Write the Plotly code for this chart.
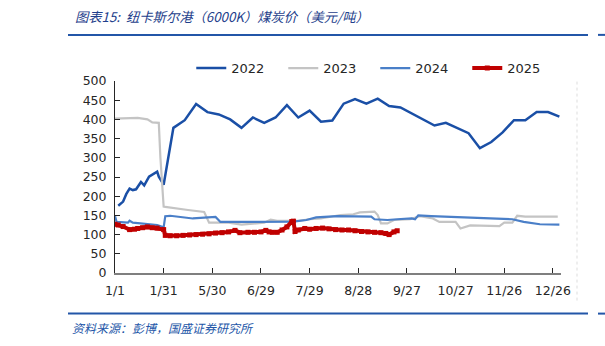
import plotly.graph_objects as go

# ---------------- data ----------------
tick_pos = [0, 30, 60, 90, 120, 150, 180, 210, 240, 270]
tick_labels = ["1/1", "1/31", "5/30", "6/29", "7/29", "8/28", "9/27", "10/27", "11/26", "12/26"]

x_2022 = [2, 5, 7, 9, 11, 13, 16, 18, 21, 26, 27, 30, 36, 43, 50, 57, 64, 71, 78, 85, 92, 99, 106,
          113, 120, 127, 134, 141, 148, 155, 162, 169, 176, 184, 190, 197, 204, 211, 218, 225, 232,
          239, 246, 253, 260, 267, 274]
y_2022 = [175, 186, 206, 220, 216, 218, 237, 228, 251, 264, 251, 230, 378, 398, 440, 419, 413, 400,
          378, 405, 391, 405, 437, 405, 423, 394, 397, 441, 453, 441, 454, 435, 431, 413, 398, 384,
          391, 378, 364, 325, 341, 366, 398, 398, 419, 419, 407]

x_2023 = [0, 14, 20, 23, 27, 28, 30, 31, 45, 55, 58, 70, 78, 88, 92, 96, 100, 113, 120, 127, 139,
          147, 151, 160, 162, 164, 168, 172, 182, 188, 196, 200, 210, 213, 219, 237, 240, 245, 248,
          253, 273]
y_2023 = [402, 404, 400, 392, 391, 300, 173, 172, 164, 159, 131, 131, 126, 129, 131, 139, 136, 136,
          140, 142, 151, 153, 158, 160, 151, 129, 129, 138, 140, 148, 142, 133, 133, 116, 124, 122,
          131, 131, 149, 147, 147]

x_2024 = [0, 1, 8, 9, 11, 26, 30, 31, 34, 48, 62, 65, 80, 90, 110, 118, 124, 137, 150, 158, 160,
          168, 174, 183, 185, 187, 195, 215, 245, 252, 262, 274]
y_2024 = [148, 133, 131, 136, 131, 125, 119, 148, 149, 142, 146, 133, 133, 133, 134, 138, 145, 148,
          147, 147, 140, 138, 140, 142, 140, 150, 148, 145, 140, 133, 127, 126]

x_2025 = [0, 2, 5, 9, 12, 14, 17, 20, 23, 26, 30, 31, 34, 38, 42, 46, 50, 54, 58, 62, 66, 70, 74,
          77, 82, 86, 90, 93, 95, 97, 100, 103, 106, 109, 110, 111, 113, 117, 120, 124, 128, 132,
          136, 140, 144, 148, 152, 156, 160, 164, 167, 169, 172, 174]
y_2025 = [127, 125, 121, 113, 114, 116, 118, 120, 118, 117, 113, 98, 97, 97, 98, 99, 100, 101, 102,
          104, 105, 107, 111, 105, 106, 106, 107, 111, 107, 106, 106, 112, 120, 134, 135, 108, 112,
          116, 114, 116, 117, 115, 113, 112, 112, 110, 108, 107, 106, 105, 103, 100, 107, 110]

# ---------------- figure ----------------
fig = go.Figure()
fig.add_trace(go.Scatter(x=x_2022, y=y_2022, name="2022", mode="lines",
                         line=dict(color="#1A4FA6", width=2.5)))
fig.add_trace(go.Scatter(x=x_2023, y=y_2023, name="2023", mode="lines",
                         line=dict(color="#C4C4C4", width=2.2)))
fig.add_trace(go.Scatter(x=x_2024, y=y_2024, name="2024", mode="lines",
                         line=dict(color="#4A7FC8", width=2.2)))
fig.add_trace(go.Scatter(x=x_2025, y=y_2025, name="2025", mode="lines+markers",
                         line=dict(color="#C00000", width=4),
                         marker=dict(symbol="square", size=5, color="#C00000")))

tick_font = dict(family="DejaVu Sans", size=12.5, color="#262626")

fig.update_layout(
    width=605, height=346,
    margin=dict(l=115, r=44, t=81, b=73),
    paper_bgcolor="white", plot_bgcolor="white",
    showlegend=True,
    legend=dict(orientation="h", x=0.171, y=1.145, xanchor="left", yanchor="top",
                font=dict(family="DejaVu Sans", size=13, color="#262626"),
                entrywidth=47, entrywidthmode="pixels", bgcolor="rgba(0,0,0,0)",
                traceorder="normal"),
    xaxis=dict(range=[0, 275], tickmode="array", tickvals=tick_pos, ticktext=tick_labels,
               showgrid=False, zeroline=False, showline=True, linecolor="#7F7F7F", linewidth=2,
               ticks="inside", ticklen=5, tickcolor="#262626", tickfont=tick_font,
               ticklabelstandoff=5),
    yaxis=dict(range=[0, 500], tickmode="linear", tick0=0, dtick=50,
               showgrid=False, zeroline=False, showline=True, linecolor="#262626", linewidth=1,
               ticks="inside", ticklen=5, tickcolor="#262626", tickfont=tick_font,
               ticklabelstandoff=5),
)

# header / footer decoration
line_color = "#2356A8"
def pline(x0, x1, y, w=2, color=line_color, dash="solid"):
    fig.add_shape(type="line", xref="paper", yref="paper",
                  x0=(x0 - 115) / 446, x1=(x1 - 115) / 446,
                  y0=(272.5 - y) / 191.5, y1=(272.5 - y) / 191.5,
                  line=dict(color=color, width=w, dash=dash))

pline(68, 588, 35)
pline(598, 605, 35)
pline(68, 588, 313)
pline(598, 605, 313)

# faint dotted vertical at right
fig.add_shape(type="line", xref="paper", yref="paper",
              x0=(577 - 115) / 446, x1=(577 - 115) / 446,
              y0=(272.5 - 300) / 191.5, y1=(272.5 - 80) / 191.5,
              line=dict(color="#DDDDDD", width=1, dash="dot"))

fig.add_annotation(xref="paper", yref="paper", x=(73 - 115) / 446, y=(272.5 - 17) / 191.5,
                   xanchor="left", yanchor="middle", showarrow=False,
                   text="图表15:  纽卡斯尔港（6000K）煤炭价（美元/吨）",
                   font=dict(family="Noto Sans CJK SC", size=13.3, color="#1F3F8C", style="italic"))
fig.add_annotation(xref="paper", yref="paper", x=(70 - 115) / 446, y=(272.5 - 327) / 191.5,
                   xanchor="left", yanchor="middle", showarrow=False,
                   text="资料来源：彭博，国盛证券研究所",
                   font=dict(family="Noto Sans CJK SC", size=12, color="#2356A8", style="italic"))

fig.write_html("out.html")
